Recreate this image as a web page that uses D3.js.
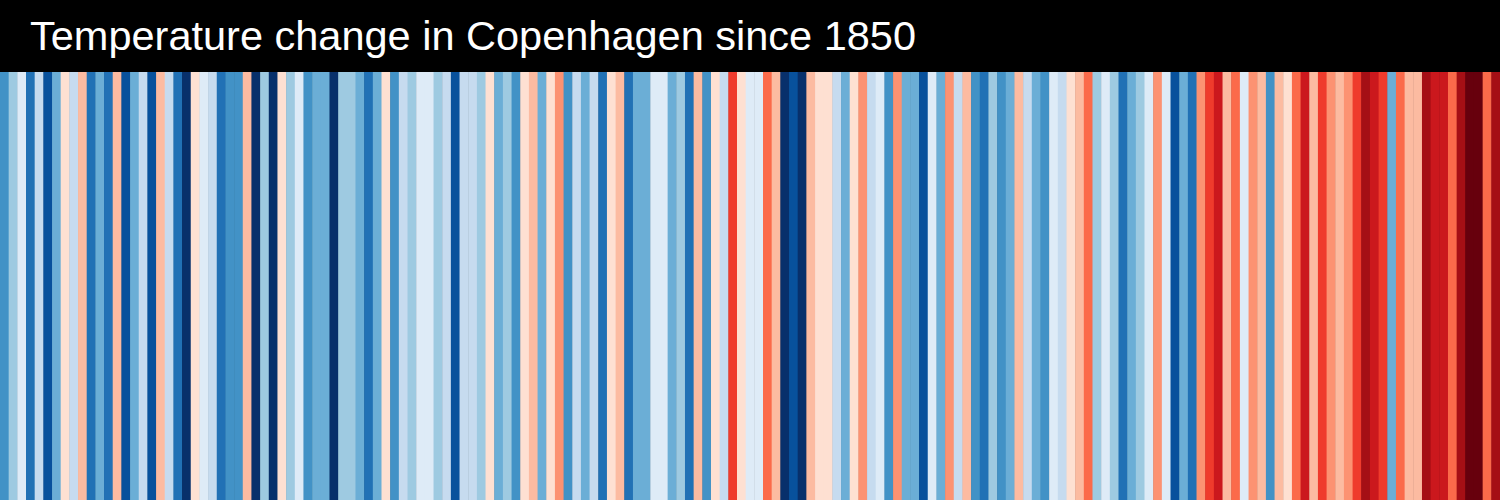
<!DOCTYPE html>
<html>
<head>
<meta charset="utf-8">
<script src="https://cdn.jsdelivr.net/npm/d3@7"></script>
<style>
  html, body { margin: 0; padding: 0; background: #000; }
  svg { display: block; }
</style>
</head>
<body>
<svg id="chart" width="1500" height="500"></svg>
<script>
// ---- data ----
const title = "Temperature change in Copenhagen since 1850";
const firstYear = 1850;
const lastYear = 2022;
const years = d3.range(firstYear, lastYear + 1);
// annual temperature anomaly (°C)
const anomalies = [
  -1.1, -0.6, -0.1, -1.4, -0.4, -1.6, -0.9, 0.1, -0.4, 0.4,
  -1.4, -0.9, -1.4, 0.4, -1.6, -0.9, -0.4, -1.6, 0.4, -0.4,
  -1.4, -1.9, 0.1, -0.1, -0.4, -1.4, -1.1, -1.1, 0.4, -1.9,
  -0.6, -1.9, 0.1, -0.6, -0.1, -1.1, -0.9, -0.9, -1.9, -0.6,
  -0.6, -0.9, -1.4, -0.9, 0.1, -1.1, -0.4, -0.6, -0.1, -0.1,
  -0.6, -0.4, -1.6, -0.4, -0.4, -0.6, 0.1, -0.9, -0.6, -1.1,
  0.1, 0.4, -0.9, 0.1, 0.6, -1.1, -0.4, -0.9, -0.4, -1.4,
  0.1, 0.4, -1.4, -0.9, -0.9, -0.1, -0.1, -0.9, -0.6, -1.4,
  0.4, -1.1, 0.1, -0.4, 1.1, 0.1, -0.1, -0.1, 0.9, 0.4,
  -1.9, -1.6, -1.9, 0.4, 0.1, 0.1, -0.4, -0.9, 0.1, 0.6,
  -0.4, -0.1, -1.1, 0.6, -0.9, -0.9, -1.6, -0.1, -0.9, 0.6,
  -0.4, 0.4, -1.1, -1.4, -0.6, -1.1, -0.9, 0.4, -0.4, -0.9,
  -1.1, -0.1, -0.4, 0.1, 0.4, 0.9, -0.6, -0.1, -0.6, -1.4,
  -0.9, -0.6, -0.1, 0.6, -0.1, -1.6, -0.9, -1.4, 0.6, 1.1,
  1.4, 0.4, 0.9, -0.1, 0.6, 0.4, -1.1, 0.4, 0.1, 0.9,
  1.4, 0.4, 1.1, 0.6, 0.4, 0.6, 1.1, 1.6, 1.4, 1.1,
  -0.9, 0.9, 0.4, 0.4, 1.6, 1.4, 1.4, 0.9, 1.6, 1.9,
  1.9, 0.9, 1.6
];
const stripeColors = [
  "#08306b", "#08519c", "#2171b5", "#4292c6", "#6baed6", "#9ecae1", "#c6dbef", "#deebf7",
  "#fee0d2", "#fcbba1", "#fc9272", "#fb6a4a", "#ef3b2c", "#cb181d", "#a50f15", "#67000d"
];

// ---- layout ----
const W = 1500, H = 500, headerH = 72;
const svg = d3.select("#chart");

const x = d3.scaleBand().domain(years).range([0, W]).padding(0);
const y = d3.scaleLinear().domain([0, 1]).range([headerH, H]);
const color = d3.scaleQuantize().domain([-2, 2]).range(stripeColors);

svg.append("rect")
  .attr("x", 0).attr("y", 0).attr("width", W).attr("height", headerH)
  .attr("fill", "#000");

svg.append("g")
  .selectAll("rect")
  .data(years.map((yr, i) => ({ year: yr, value: anomalies[i] })))
  .join("rect")
  .attr("x", d => x(d.year))
  .attr("y", y(0))
  .attr("width", x.bandwidth() + 0.5)
  .attr("height", y(1) - y(0))
  .attr("fill", d => color(d.value));

svg.append("text")
  .attr("x", 30)
  .attr("y", 50)
  .attr("fill", "#fff")
  .attr("font-family", "'Liberation Sans', Arial, Helvetica, sans-serif")
  .attr("font-size", 41.5)
  .text(title);
</script>
</body>
</html>
